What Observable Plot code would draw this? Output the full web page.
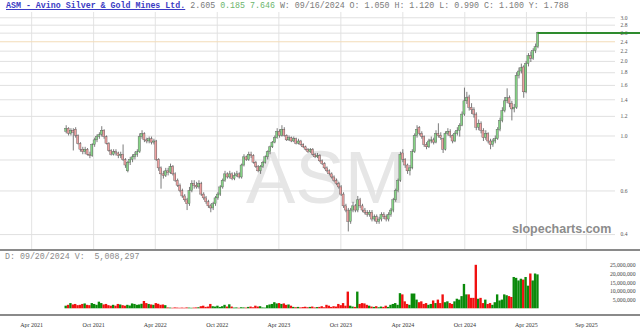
<!DOCTYPE html>
<html><head><meta charset="utf-8">
<script src="https://cdn.jsdelivr.net/npm/d3@7"></script>
<script src="https://cdn.jsdelivr.net/npm/@observablehq/plot@0.6"></script>
<style>
body{margin:0;background:#fff;}
#wrap{position:relative;width:640px;height:336px;overflow:hidden;background:#fff;}
.abs{position:absolute;}
#hdr{left:6px;top:1px;font-family:"Liberation Mono","DejaVu Sans Mono",monospace;font-size:8.3px;line-height:10px;white-space:pre;color:#7a7a7a;}
#hdr .t{color:#3b3bc4;text-decoration:underline;font-weight:bold;}
#hdr .up{color:#6cb56c;}
#vhdr{left:5px;top:252px;font-family:"Liberation Mono","DejaVu Sans Mono",monospace;font-size:8.3px;line-height:10px;white-space:pre;color:#8a8a8a;}
#wm{left:246px;top:138px;font-family:"Liberation Sans",Arial,sans-serif;font-size:74px;color:#e6e6e6;line-height:80px;}
#sc{left:512px;top:222px;font-family:"Liberation Sans",Arial,sans-serif;font-size:12.5px;font-weight:bold;color:#8c8c8c;}
.sep{left:0;width:640px;height:2px;background:#8a8a8a;}
</style></head>
<body><div id="wrap">
<div id="wm" class="abs">ASM</div>
<div id="price" class="abs" style="left:0;top:0"></div>
<div id="sc" class="abs">slopecharts.com</div>
<div id="hdr" class="abs"><span class="t">ASM - Avino Silver &amp; Gold Mines Ltd.</span> <span>2.605</span> <span class="up">0.185 7.646</span> <span>W: 09/16/2024 O: 1.050 H: 1.120 L: 0.990 C: 1.100 Y: 1.788</span></div>
<div class="abs sep" style="top:249px"></div>
<div id="vol" class="abs" style="left:0;top:250px"></div>
<div id="vhdr" class="abs">D: 09/20/2024 V:  5,008,297</div>
<div class="abs sep" style="top:314px"></div>
</div>
<script>
const firstWeek = "2021-07-12";
const nWeeks = 200;
const open = [1.04,1.07,1.02,1.05,1.06,1.00,0.93,0.88,0.86,0.88,0.84,0.83,0.92,0.96,0.99,1.01,1.05,0.99,0.93,0.87,
0.84,0.86,0.85,0.83,0.84,0.80,0.72,0.78,0.80,0.82,0.84,0.86,0.99,1.02,0.96,0.95,0.97,0.94,0.95,0.80,
0.74,0.70,0.69,0.72,0.71,0.75,0.70,0.66,0.63,0.60,0.57,0.55,0.53,0.60,0.64,0.63,0.62,0.64,0.58,0.56,
0.54,0.52,0.51,0.53,0.56,0.58,0.62,0.66,0.70,0.68,0.70,0.67,0.69,0.70,0.68,0.76,0.82,0.80,0.84,0.83,
0.78,0.75,0.72,0.75,0.78,0.82,0.86,0.90,0.94,0.98,1.04,1.00,1.06,1.00,0.96,0.98,0.95,0.97,0.93,0.95,
0.92,0.90,0.88,0.86,0.88,0.84,0.82,0.83,0.79,0.77,0.74,0.72,0.70,0.68,0.66,0.64,0.62,0.58,0.52,0.50,
0.45,0.50,0.52,0.50,0.55,0.52,0.50,0.49,0.48,0.49,0.46,0.47,0.45,0.46,0.48,0.47,0.46,0.48,0.50,0.55,
0.60,0.66,0.85,0.80,0.76,0.72,0.74,0.86,1.00,1.08,1.02,0.99,0.92,0.90,0.95,0.96,0.94,1.02,1.00,0.97,
0.88,1.02,1.04,1.00,0.95,1.02,1.05,1.10,1.22,1.38,1.43,1.30,1.27,1.22,1.08,1.12,1.05,0.98,1.02,0.95,
0.92,0.95,0.97,1.06,1.15,1.26,1.38,1.42,1.35,1.28,1.30,1.75,1.82,1.89,1.50,1.95,2.10,2.05,2.20,2.28];
const high = [1.10,1.08,1.07,1.07,1.08,1.01,0.94,0.90,0.90,0.89,0.86,0.93,0.98,1.01,1.03,1.09,1.06,1.00,0.94,0.88,
0.88,0.88,0.86,0.86,0.92,0.81,0.79,0.82,0.84,0.86,0.88,1.02,1.05,1.03,0.98,0.99,0.99,0.97,0.96,0.81,
0.75,0.72,0.74,0.74,0.77,0.76,0.71,0.67,0.64,0.61,0.58,0.56,0.62,0.66,0.66,0.65,0.66,0.65,0.59,0.57,
0.55,0.53,0.54,0.57,0.59,0.63,0.67,0.72,0.71,0.72,0.71,0.71,0.72,0.71,0.77,0.84,0.83,0.86,0.86,0.84,
0.79,0.76,0.76,0.79,0.83,0.87,0.91,0.95,1.00,1.07,1.06,1.10,1.08,1.01,1.00,0.99,0.99,0.98,0.97,0.96,
0.93,0.91,0.89,0.89,0.89,0.85,0.85,0.84,0.80,0.78,0.75,0.73,0.71,0.69,0.67,0.65,0.63,0.59,0.53,0.51,
0.51,0.54,0.53,0.57,0.56,0.53,0.51,0.50,0.50,0.50,0.48,0.48,0.47,0.49,0.49,0.48,0.49,0.51,0.56,0.61,
0.67,0.86,0.88,0.81,0.77,0.76,0.88,1.02,1.10,1.09,1.04,1.00,0.94,0.97,0.99,0.98,1.05,1.12,1.03,0.98,
1.04,1.07,1.06,1.01,1.04,1.08,1.12,1.25,1.56,1.50,1.46,1.35,1.30,1.24,1.16,1.14,1.07,1.05,1.03,0.97,
0.97,1.00,1.08,1.18,1.30,1.43,1.55,1.45,1.38,1.34,1.80,1.88,1.95,1.92,2.00,2.15,2.18,2.25,2.35,2.62];
const low = [1.02,1.00,1.00,0.87,0.98,0.92,0.86,0.84,0.84,0.83,0.81,0.82,0.90,0.94,0.97,0.99,0.97,0.92,0.86,0.83,
0.83,0.83,0.81,0.81,0.79,0.74,0.71,0.76,0.78,0.80,0.82,0.85,0.97,0.94,0.93,0.93,0.92,0.92,0.79,0.72,
0.61,0.67,0.68,0.69,0.70,0.69,0.65,0.62,0.59,0.56,0.54,0.50,0.52,0.59,0.61,0.61,0.61,0.57,0.55,0.53,
0.51,0.49,0.50,0.52,0.55,0.57,0.61,0.65,0.67,0.67,0.66,0.66,0.68,0.67,0.67,0.75,0.79,0.79,0.81,0.77,
0.74,0.71,0.70,0.74,0.77,0.80,0.84,0.89,0.93,0.97,0.98,0.99,0.99,0.95,0.95,0.94,0.94,0.92,0.92,0.91,
0.89,0.87,0.85,0.85,0.83,0.81,0.81,0.78,0.76,0.73,0.71,0.69,0.67,0.65,0.63,0.61,0.57,0.51,0.49,0.41,
0.44,0.49,0.49,0.49,0.51,0.49,0.48,0.47,0.47,0.45,0.45,0.44,0.44,0.45,0.46,0.45,0.45,0.47,0.49,0.54,
0.59,0.65,0.78,0.74,0.70,0.69,0.73,0.85,0.98,1.00,0.97,0.90,0.88,0.89,0.93,0.92,0.93,0.98,0.96,0.85,
0.87,1.00,0.98,0.93,0.94,1.00,0.99,1.09,1.20,1.34,1.26,1.22,1.18,1.05,1.05,1.02,0.95,0.96,0.93,0.88,
0.90,0.93,0.96,1.04,1.13,1.24,1.35,1.30,1.15,1.24,1.28,1.70,1.78,1.42,1.48,1.90,1.98,2.02,2.15,2.25];
const close = [1.07,1.02,1.05,1.03,1.00,0.93,0.88,0.86,0.88,0.84,0.83,0.92,0.96,0.99,1.01,1.05,0.99,0.93,0.87,0.84,
0.86,0.85,0.83,0.84,0.80,0.76,0.78,0.80,0.82,0.84,0.86,0.99,1.02,0.96,0.95,0.97,0.94,0.95,0.80,0.74,
0.70,0.69,0.72,0.71,0.75,0.70,0.66,0.63,0.60,0.57,0.55,0.53,0.60,0.64,0.63,0.62,0.64,0.58,0.56,0.54,
0.52,0.51,0.53,0.56,0.58,0.62,0.66,0.70,0.68,0.70,0.67,0.69,0.70,0.68,0.76,0.82,0.80,0.84,0.83,0.78,
0.75,0.72,0.75,0.78,0.82,0.86,0.90,0.94,0.98,1.04,1.00,1.06,1.00,0.96,0.98,0.95,0.97,0.93,0.95,0.92,
0.90,0.88,0.86,0.88,0.84,0.82,0.83,0.79,0.77,0.74,0.72,0.70,0.68,0.66,0.64,0.62,0.58,0.52,0.50,0.45,
0.50,0.52,0.50,0.55,0.52,0.50,0.49,0.48,0.49,0.46,0.47,0.45,0.46,0.48,0.47,0.46,0.48,0.50,0.55,0.60,
0.66,0.84,0.80,0.76,0.72,0.74,0.86,1.00,1.06,1.02,0.99,0.92,0.90,0.95,0.96,0.94,1.02,1.00,0.98,0.88,
1.02,1.04,1.00,0.95,1.02,1.05,1.10,1.22,1.38,1.42,1.30,1.27,1.22,1.08,1.12,1.05,0.98,1.02,0.95,0.92,
0.95,0.97,1.06,1.15,1.26,1.38,1.42,1.35,1.28,1.30,1.75,1.82,1.88,1.50,1.95,2.10,2.05,2.20,2.28,2.605];
const volumeM = [1.5,2.0,3.0,2.2,2.5,1.8,2.0,2.5,2.8,2.0,1.8,3.0,2.5,2.0,3.8,3.0,2.2,2.5,1.8,1.5,
2.0,1.5,2.5,2.2,1.8,1.5,2.0,1.6,2.8,2.5,2.0,2.2,2.6,4.2,3.0,2.5,2.2,2.0,3.0,2.6,
2.0,2.2,1.8,0.5,0.4,0.3,0.5,0.4,0.3,0.4,0.3,0.5,0.4,0.3,0.4,0.5,0.6,1.2,1.5,0.8,
1.0,2.5,1.2,1.0,1.5,0.8,1.2,2.0,1.0,2.3,1.0,0.4,0.5,0.3,0.6,0.5,0.4,0.8,1.0,0.6,
1.5,1.0,1.2,0.5,0.4,1.8,2.2,2.5,3.5,2.8,3.0,2.5,2.8,2.0,2.2,1.5,0.8,0.6,0.8,0.5,
0.7,0.9,0.6,0.8,1.0,0.5,0.7,0.8,1.2,0.6,2.0,1.5,0.8,1.2,1.0,2.5,1.8,3.0,1.5,9.6,
1.5,1.0,0.8,9.6,2.5,3.0,2.8,2.0,1.5,1.0,0.8,1.2,0.6,1.0,0.8,1.5,0.8,2.0,2.5,3.0,
2.0,8.7,8.0,4.0,2.5,2.0,8.5,8.5,5.0,3.5,4.0,2.5,3.0,2.0,2.5,4.5,3.0,5.0,3.0,8.0,
3.5,4.0,3.0,2.5,4.0,5.5,5.0,7.0,14.0,8.0,8.0,6.0,6.0,25.0,5.5,6.0,3.0,5.0,2.5,3.0,
2.0,3.5,8.0,4.5,5.0,8.0,7.5,7.0,6.5,18.0,17.5,16.0,17.0,16.5,18.0,13.0,20.0,16.0,20.0,19.5];
const priceTicks = [0.4,0.6,0.8,1.0,1.2,1.4,1.6,1.8,2.0,2.2,2.4,2.6,2.8,3.0];
const volumeTicks = [5e6,10e6,15e6,20e6,25e6];
const tickDates = ["2021-04-01","2021-10-01","2022-04-01","2022-10-01","2023-04-01","2023-10-01","2024-04-01","2024-10-01","2025-04-01","2025-09-25"];
const tickLabels = ["Apr 2021","Oct 2021","Apr 2022","Oct 2022","Apr 2023","Oct 2023","Apr 2024","Oct 2024","Apr 2025","Sep 2025"];
const lastPrice = 2.605;

const DAY = 864e5;
const weeks = d3.utcMonday.range(new Date(firstWeek), d3.utcMonday.offset(new Date(firstWeek), nWeeks));
const bars = weeks.map((d, i) => ({date: d, o: open[i], h: high[i], l: low[i], c: close[i], v: volumeM[i] * 1e6, up: close[i] >= open[i]}));
const tDates = tickDates.map(s => new Date(s));
const xDomain = [new Date("2020-12-30"), new Date("2025-12-20")];
const serif = "'Liberation Serif','Times New Roman',serif";

const price = Plot.plot({
  width: 640, height: 250, marginTop: 12, marginBottom: 0, marginLeft: 0, marginRight: 25,
  style: {background: "transparent", overflow: "visible"},
  x: {type: "utc", domain: xDomain, axis: null},
  y: {type: "log", domain: [0.345, 3.15], axis: null},
  marks: [
    Plot.ruleX(tDates, {stroke: "#e3e3e3", strokeWidth: 1}),
    Plot.ruleY(priceTicks, {stroke: d => d === 2.4 ? "#f3dcb8" : "#e0e0e0", strokeWidth: 1}),
    Plot.axisY(priceTicks, {anchor: "right", tickSize: 0, tickPadding: 5, tickFormat: d3.format(".1f"), fontSize: 5.5, fontFamily: serif, fill: "#555", label: null}),
    Plot.ruleX(bars, {x: "date", y1: "l", y2: "h", stroke: "#444", strokeWidth: 0.7}),
    Plot.rect(bars, {x1: d => new Date(+d.date - 3.1 * DAY), x2: d => new Date(+d.date + 3.1 * DAY), y1: "o", y2: "c",
      fill: d => d.up ? "#86d486" : "#eda0a0", stroke: "#555", strokeWidth: 0.4}),
    Plot.ruleY([lastPrice], {x1: bars[bars.length - 1].date, x2: new Date("2026-04-01"), stroke: "#2e8b2e", strokeWidth: 2})
  ]
});
document.getElementById("price").appendChild(price);

const vol = Plot.plot({
  width: 640, height: 86, marginTop: 14.8, marginBottom: 27.7, marginLeft: 0, marginRight: 25,
  style: {background: "transparent", overflow: "visible"},
  x: {type: "utc", domain: xDomain, axis: null},
  y: {domain: [0, 25e6], axis: null},
  marks: [
    Plot.rectY(bars, {x1: d => new Date(+d.date - 3.5 * DAY), x2: d => new Date(+d.date + 3.5 * DAY), y: "v",
      fill: d => d.up ? "#0a8a0a" : "#f01010", inset: 0}),
    Plot.axisY(volumeTicks, {anchor: "right", tickSize: 0, tickPadding: 20, textAnchor: "end", tickFormat: d3.format(","), fontSize: 5.7, fontFamily: serif, fill: "#444", label: null}),
    Plot.axisX(tDates, {anchor: "bottom", tickSize: 0, tickPadding: 14, tickFormat: (d, i) => tickLabels[i], fontSize: 6, fontFamily: serif, fill: "#333", label: null})
  ]
});
document.getElementById("vol").appendChild(vol);
</script>
</body></html>
